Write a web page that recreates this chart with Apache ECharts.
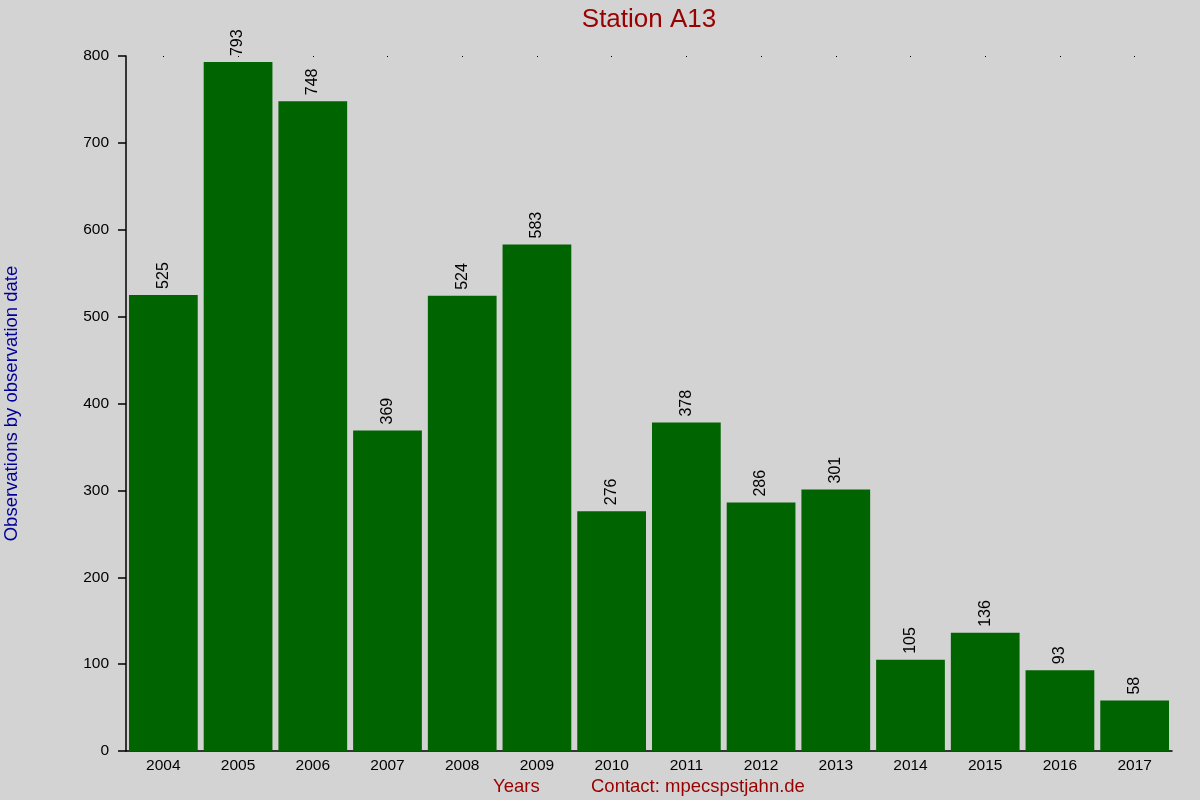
<!DOCTYPE html>
<html>
<head>
<meta charset="utf-8">
<script src="https://cdn.jsdelivr.net/npm/echarts@6/dist/echarts.min.js"></script>
<style>
  html, body { margin: 0; padding: 0; background: #d3d3d3; }
  #chart { width: 1200px; height: 800px; }
</style>
</head>
<body>
<div id="chart"></div>
<script>
// Station A13 — počty pozorování podle roku
const years = ['2004', '2005', '2006', '2007', '2008', '2009', '2010',
               '2011', '2012', '2013', '2014', '2015', '2016', '2017'];
const observations = [525, 793, 748, 369, 524, 583, 276, 378, 286, 301, 105, 136, 93, 58];
const yTicks = [0, 100, 200, 300, 400, 500, 600, 700, 800];

const FONT = '"Liberation Sans", Arial, sans-serif';
const chart = echarts.init(document.getElementById('chart'));

const option = {
  backgroundColor: '#d3d3d3',
  animation: false,
  textStyle: { fontFamily: FONT },
  title: {
    text: 'Station A13',
    left: 644,
    textAlign: 'center',
    top: 2,
    textStyle: { color: '#990000', fontSize: 26, fontWeight: 'normal', fontFamily: FONT },
  },
  grid: { left: 126, right: 28, top: 56, bottom: 49, outerBoundsMode: 'none', containLabel: false },
  graphic: [
    {
      type: 'text',
      left: 493, top: 777,
      style: { text: 'Years', fill: '#990000', font: '18.5px ' + FONT },
    },
    {
      type: 'text',
      left: 591, top: 777,
      style: { text: 'Contact: mpecspstjahn.de', fill: '#990000', font: '18.5px ' + FONT },
    },
  ],
  xAxis: [
    {
      type: 'category',
      data: years,
      position: 'bottom',
      axisLine: { lineStyle: { color: '#000', width: 1.5 } },
      axisTick: { show: false },
      axisLabel: { color: '#000', fontSize: 15.5, margin: 7 },
    },
    {
      type: 'category',
      data: years,
      position: 'top',
      axisLine: { show: false },
      axisTick: { show: true, alignWithLabel: true, length: 1, inside: true, lineStyle: { color: '#000' } },
      axisLabel: { show: false },
    },
  ],
  yAxis: {
    type: 'value',
    min: yTicks[0],
    max: yTicks[yTicks.length - 1],
    interval: 100,
    name: 'Observations by observation date',
    nameLocation: 'middle',
    nameGap: 105,
    nameTextStyle: { color: '#000099', fontSize: 18.5, fontFamily: FONT },
    axisLine: { show: true, lineStyle: { color: '#000', width: 1.5 } },
    axisTick: { show: true, length: 8, lineStyle: { color: '#000', width: 1.5 } },
    axisLabel: { color: '#000', fontSize: 15.5, margin: 17 },
    splitLine: { show: false },
  },
  series: [{
    type: 'bar',
    data: observations,
    barCategoryGap: '8%',
    itemStyle: { color: '#006400' },
    label: {
      show: true,
      position: 'top',
      rotate: 90,
      align: 'left',
      verticalAlign: 'middle',
      distance: 6,
      color: '#000',
      fontSize: 16,
      fontFamily: FONT,
    },
  }],
};

chart.setOption(option);
</script>
</body>
</html>
